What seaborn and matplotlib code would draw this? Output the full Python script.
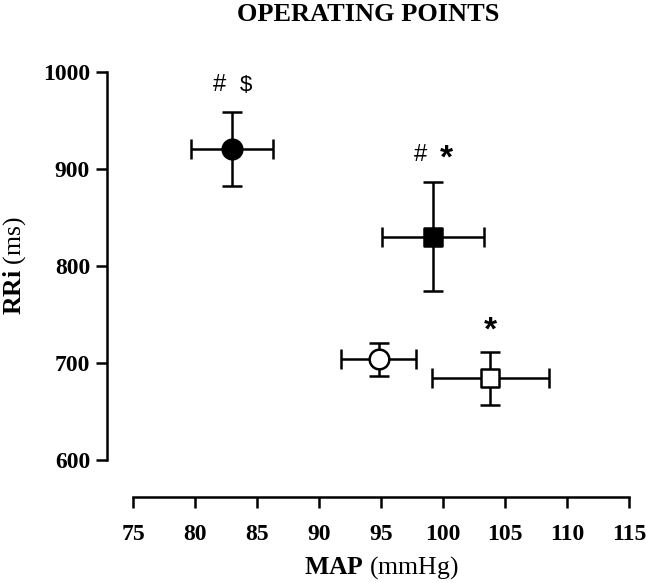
import matplotlib
matplotlib.use("Agg")
import matplotlib.pyplot as plt
import seaborn as sns
import pandas as pd

# Data
groups = ["A", "B", "C", "D"]
map_mean = [83.0, 99.2, 94.8, 103.8]
map_sem = [3.3, 4.1, 3.0, 4.7]
rri_mean = [920, 830, 704, 684]
rri_sem = [38, 56, 17, 27]
markers = {"A": "o", "B": "s", "C": "o", "D": "s"}
faces = ["black", "black", "white", "white"]
notes = [["#", "\\$"], ["#", "*"], [], ["*"]]

df = pd.DataFrame({"group": groups, "MAP": map_mean, "RRi": rri_mean})

sns.set_style("ticks", {"axes.edgecolor": "black", "text.color": "black",
                        "axes.labelcolor": "black", "xtick.color": "black",
                        "ytick.color": "black"})
plt.rcParams["font.family"] = ["Liberation Serif", "DejaVu Serif"]
plt.rcParams["mathtext.fontset"] = "custom"
plt.rcParams["mathtext.rm"] = "Liberation Serif"
plt.rcParams["mathtext.bf"] = "Liberation Serif:bold"

fig = plt.figure(figsize=(6.46, 5.83), dpi=100)
ax = fig.add_axes([0.206, 0.211, 0.768, 0.666])

# error bars first, markers on top
ax.errorbar(map_mean, rri_mean, xerr=map_sem, yerr=rri_sem, fmt="none",
            ecolor="black", elinewidth=1.8, capsize=7, capthick=1.8, zorder=1)
for i, g in enumerate(groups):
    sns.scatterplot(data=df[df["group"] == g], x="MAP", y="RRi", marker=markers[g],
                    s=200 if markers[g] == "o" else 180, color=faces[i],
                    edgecolor="black", linewidth=1.8, ax=ax, zorder=3, legend=False)

# significance symbols
for i, syms in enumerate(notes):
    ytxt = rri_mean[i] + rri_sem[i] + 28
    if len(syms) == 2:
        ax.text(map_mean[i] - 1.0, ytxt, syms[0], ha="center", va="center",
                fontsize=17, family="Liberation Sans")
        big = syms[1] == "*"
        ax.text(map_mean[i] + 1.1, ytxt + (-4 if big else 0), syms[1], ha="center",
                va="center", fontsize=24 if big else 16, fontweight="bold" if big else "normal",
                family="Liberation Sans")
    elif len(syms) == 1:
        ax.text(map_mean[i], ytxt - 6, syms[0], ha="center", va="center",
                fontsize=24, fontweight="bold", family="Liberation Sans")

ax.set_xlim(75, 115)
ax.set_ylim(600, 1000)
ax.set_xticks(range(75, 116, 5))
ax.set_yticks(range(600, 1001, 100))
sns.despine(ax=ax)
ax.spines["left"].set_position(("outward", 19))
ax.spines["bottom"].set_position(("outward", 27))
for s in ["left", "bottom"]:
    ax.spines[s].set_linewidth(1.8)
ax.tick_params(width=1.8, length=8, labelsize=17, pad=4)
ax.tick_params(axis="x", pad=11)
for lab in ax.get_xticklabels() + ax.get_yticklabels():
    lab.set_fontweight("bold")

ax.set_xlabel(r"$\mathbf{MAP}$ (mmHg)", fontsize=18.5, labelpad=7)
ax.set_ylabel(r"$\mathbf{RRi}$ (ms)", fontsize=18.5, labelpad=11)
fig.text(0.57, 0.975, "OPERATING POINTS", ha="center", va="center",
         fontsize=19, fontweight="bold")

fig.savefig("out.png", dpi=100)
